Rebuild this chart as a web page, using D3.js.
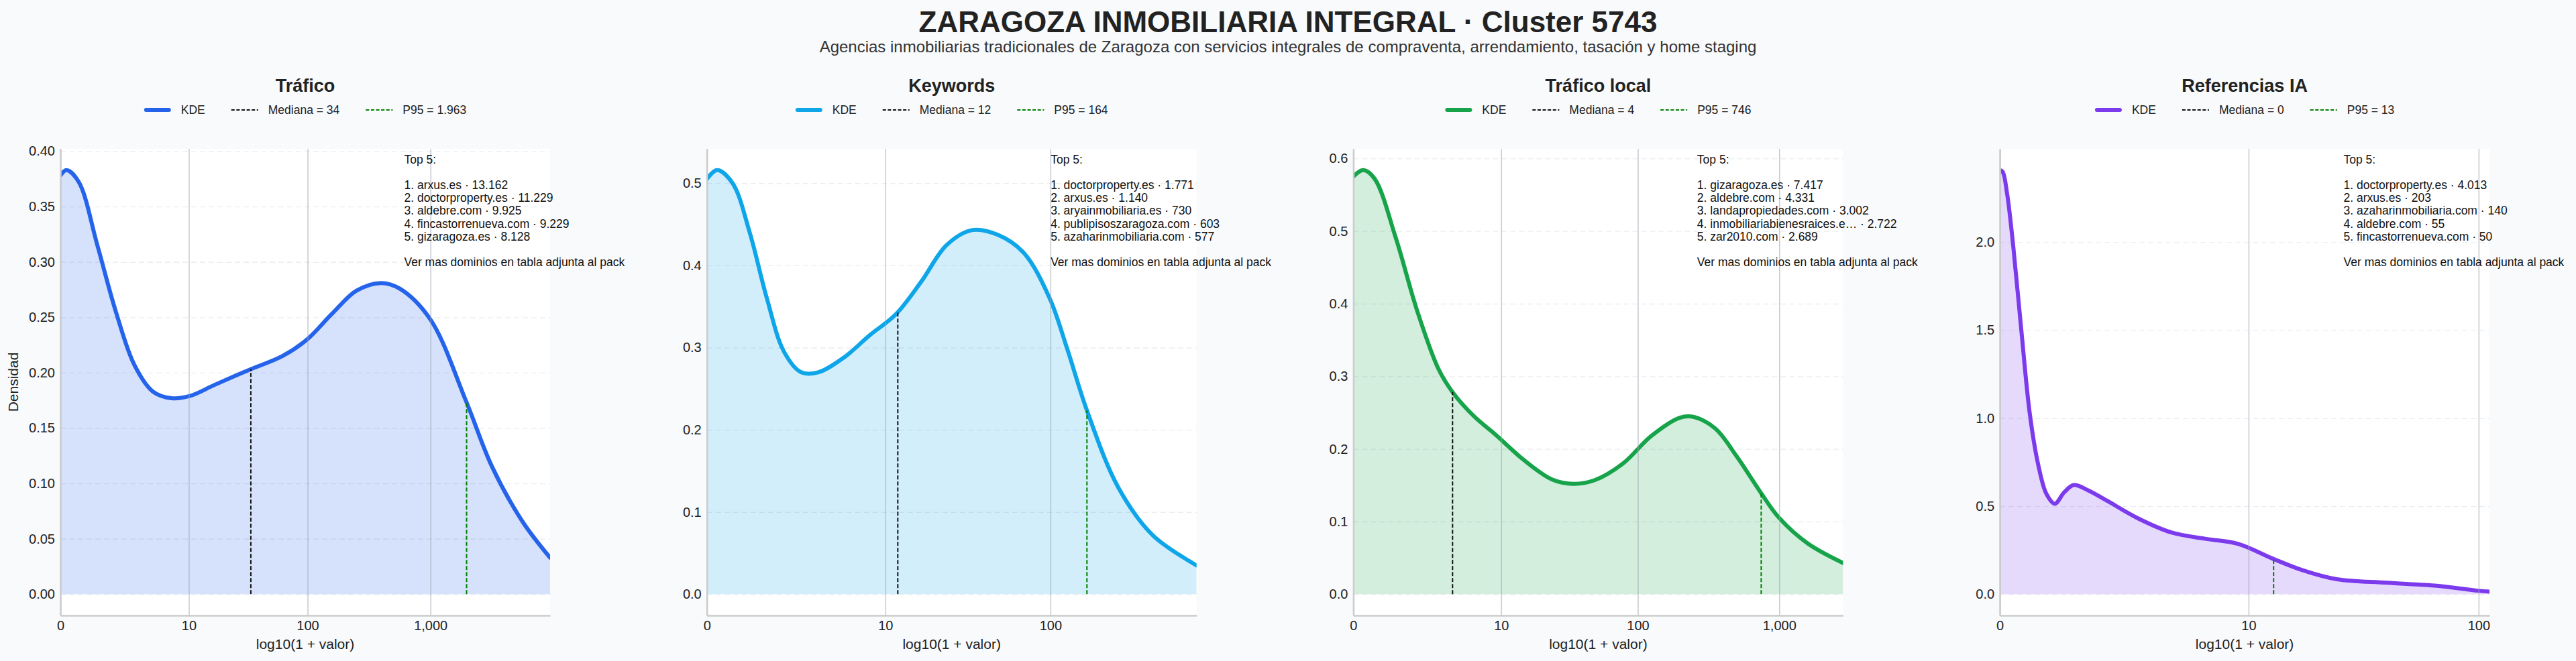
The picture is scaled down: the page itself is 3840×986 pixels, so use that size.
<!DOCTYPE html>
<html lang="es">
<head>
<meta charset="UTF-8">
<title>Zaragoza Inmobiliaria Integral · Cluster 5743</title>
<script src="https://cdn.jsdelivr.net/npm/d3@7"></script>
<style>
  html, body { margin: 0; background: #f8fafc; }
  svg { display: block; font-family: "Liberation Sans", Arial, Helvetica, sans-serif; }
</style>
</head>
<body>
<svg id="chart" width="3840" height="986"></svg>
<script>
// ---- data ----
const title = "ZARAGOZA INMOBILIARIA INTEGRAL · Cluster 5743";
const subtitle = "Agencias inmobiliarias tradicionales de Zaragoza con servicios integrales de compraventa, arrendamiento, tasación y home staging";

const panelNames = ["Tráfico", "Keywords", "Tráfico local", "Referencias IA"];
const panelColors = ["#2563eb", "#0ea5e9", "#16a34a", "#7c3aed"];
const medians = [34, 12, 4, 0];
const p95s = [1963, 164, 746, 13];
const xMaxLog = [3.97, 2.857, 3.45, 2.05];   // right limit, log10(1 + valor)
const xTickVals = [[0, 10, 100, 1000], [0, 10, 100], [0, 10, 100, 1000], [0, 10, 100]];
const yTickVals = [
  [0, 0.05, 0.10, 0.15, 0.20, 0.25, 0.30, 0.35, 0.40],
  [0, 0.1, 0.2, 0.3, 0.4, 0.5],
  [0, 0.1, 0.2, 0.3, 0.4, 0.5, 0.6],
  [0, 0.5, 1.0, 1.5, 2.0]
];
const yTickFmt = [".2f", ".1f", ".1f", ".1f"];

// KDE curves: x in log10(1 + valor), y = densidad
const traficoX = [0, 0.05, 0.15, 0.3, 0.45, 0.6, 0.75, 0.9, 1.05, 1.25, 1.54, 1.8, 2.0, 2.2, 2.4, 2.6, 2.75, 3.0, 3.29, 3.5, 3.75, 3.97];
const traficoY = [0.378, 0.383, 0.372, 0.315, 0.255, 0.207, 0.183, 0.177, 0.179, 0.189, 0.203, 0.215, 0.230, 0.253, 0.274, 0.281, 0.276, 0.248, 0.174, 0.115, 0.065, 0.033];
const keywordsX = [0, 0.06, 0.15, 0.25, 0.35, 0.45, 0.55, 0.65, 0.8, 0.95, 1.1, 1.25, 1.4, 1.55, 1.7, 1.85, 2.0, 2.1, 2.22, 2.4, 2.6, 2.857];
const keywordsY = [0.505, 0.516, 0.50, 0.44, 0.36, 0.295, 0.27, 0.27, 0.288, 0.315, 0.34, 0.38, 0.425, 0.443, 0.437, 0.415, 0.36, 0.30, 0.222, 0.13, 0.072, 0.035];
const localX = [0, 0.07, 0.15, 0.3, 0.45, 0.6, 0.7, 0.85, 1.0, 1.2, 1.4, 1.55, 1.7, 1.9, 2.1, 2.3, 2.4, 2.55, 2.7, 2.87, 3.0, 3.2, 3.45];
const localY = [0.575, 0.584, 0.572, 0.49, 0.39, 0.31, 0.278, 0.245, 0.22, 0.185, 0.158, 0.152, 0.157, 0.18, 0.218, 0.243, 0.244, 0.228, 0.19, 0.14, 0.105, 0.07, 0.043];
const iaX = [0, 0.012, 0.03, 0.056, 0.09, 0.125, 0.16, 0.195, 0.23, 0.27, 0.31, 0.37, 0.45, 0.58, 0.72, 0.86, 1.0, 1.146, 1.27, 1.41, 1.62, 1.83, 2.0, 2.05];
const iaY = [2.41, 2.4, 2.28, 1.98, 1.5, 1.03, 0.74, 0.57, 0.514, 0.58, 0.62, 0.59, 0.53, 0.43, 0.35, 0.315, 0.285, 0.20, 0.135, 0.085, 0.065, 0.048, 0.02, 0.015];

const top5Names = [
  ["arxus.es", "doctorproperty.es", "aldebre.com", "fincastorrenueva.com", "gizaragoza.es"],
  ["doctorproperty.es", "arxus.es", "aryainmobiliaria.es", "publipisoszaragoza.com", "azaharinmobiliaria.com"],
  ["gizaragoza.es", "aldebre.com", "landapropiedades.com", "inmobiliariabienesraices.e…", "zar2010.com"],
  ["doctorproperty.es", "arxus.es", "azaharinmobiliaria.com", "aldebre.com", "fincastorrenueva.com"]
];
const top5Values = [
  [13162, 11229, 9925, 9229, 8128],
  [1771, 1140, 730, 603, 577],
  [7417, 4331, 3002, 2722, 2689],
  [4013, 203, 140, 55, 50]
];

const curvesX = [traficoX, keywordsX, localX, iaX];
const curvesY = [traficoY, keywordsY, localY, iaY];

// ---- layout ----
const W = 3840, H = 986;
const left0 = 90, stepX = 963.7, pw = 730, plotTop = 222, plotBottom = 918;
const fontTick = 20, fontLegend = 17.5;

const esFmt = d3.formatLocale({decimal: ",", thousands: ".", grouping: [3], currency: ["", ""]}).format(",d");
const enFmt = d3.format(",d");

const svg = d3.select("#chart");
svg.append("rect").attr("width", W).attr("height", H).attr("fill", "#f8fafc");

svg.append("text").attr("x", W / 2).attr("y", 48).attr("text-anchor", "middle")
  .attr("font-size", 44).attr("font-weight", "bold").attr("fill", "#222").text(title);
svg.append("text").attr("x", W / 2).attr("y", 78).attr("text-anchor", "middle")
  .attr("font-size", 24).attr("fill", "#333").text(subtitle);

panelNames.forEach((name, i) => {
  const L = left0 + i * stepX;
  const xs = curvesX[i], ys = curvesY[i];
  const pts = xs.map((v, k) => [v, ys[k]]);
  const ymax = d3.max(ys);
  const x = d3.scaleLinear().domain([0, xMaxLog[i]]).range([L, L + pw]);
  const y = d3.scaleLinear().domain([-0.05 * ymax, 1.05 * ymax]).range([plotBottom, plotTop]);
  const smooth = d3.curveCatmullRom.alpha(0.5);
  const g = svg.append("g");

  g.append("rect").attr("x", L).attr("y", plotTop).attr("width", pw).attr("height", plotBottom - plotTop).attr("fill", "#fff");

  // horizontal dashed grid
  g.append("g").attr("transform", `translate(${L},0)`)
    .call(d3.axisLeft(y).tickValues(yTickVals[i]).tickSize(-pw).tickFormat(""))
    .call(a => a.select(".domain").remove())
    .call(a => a.selectAll("line").attr("stroke", "#ebedf0").attr("stroke-width", 1.3).attr("stroke-dasharray", "8,5"));

  const clipId = "clip" + i;
  svg.append("clipPath").attr("id", clipId).append("rect")
    .attr("x", L).attr("y", plotTop).attr("width", pw).attr("height", plotBottom - plotTop);
  const plot = g.append("g").attr("clip-path", `url(#${clipId})`);

  plot.append("path").datum(pts)
    .attr("d", d3.area().x(d => x(d[0])).y0(y(0)).y1(d => y(d[1])).curve(smooth))
    .attr("fill", panelColors[i]).attr("fill-opacity", 0.19);

  // vertical solid grid at major ticks
  g.append("g").attr("transform", `translate(0,${plotBottom})`)
    .call(d3.axisBottom(x).tickValues(xTickVals[i].map(v => Math.log10(1 + v))).tickSize(-(plotBottom - plotTop)).tickFormat(""))
    .call(a => a.select(".domain").remove())
    .call(a => a.selectAll("line").attr("stroke", "#9ca3af").attr("stroke-opacity", 0.55).attr("stroke-width", 1.6));

  const curve = plot.append("path").datum(pts)
    .attr("d", d3.line().x(d => x(d[0])).y(d => y(d[1])).curve(smooth))
    .attr("fill", "none").attr("stroke", panelColors[i]).attr("stroke-width", 6)
    .attr("stroke-linejoin", "round").attr("stroke-linecap", "round");

  // height of the drawn curve at a given x
  const node = curve.node(), total = node.getTotalLength();
  function curveYAt(px) {
    let lo = 0, hi = total;
    for (let k = 0; k < 40; k++) {
      const mid = (lo + hi) / 2;
      if (node.getPointAtLength(mid).x < px) lo = mid; else hi = mid;
    }
    return node.getPointAtLength(lo).y;
  }
  [[medians[i], "#111"], [p95s[i], "green"]].forEach(([v, c]) => {
    const px = x(Math.log10(1 + v));
    plot.append("line").attr("x1", px).attr("x2", px).attr("y1", y(0)).attr("y2", curveYAt(px))
      .attr("stroke", c).attr("stroke-width", 2).attr("stroke-dasharray", "6,3");
  });

  // axes with spines
  const ax = g.append("g").attr("transform", `translate(0,${plotBottom})`)
    .call(d3.axisBottom(x).tickValues(xTickVals[i].map(v => Math.log10(1 + v)))
      .tickFormat((d, k) => enFmt(xTickVals[i][k])).tickSize(0).tickSizeOuter(0).tickPadding(8));
  const ay = g.append("g").attr("transform", `translate(${L},0)`)
    .call(d3.axisLeft(y).tickValues(yTickVals[i]).tickFormat(d3.format(yTickFmt[i])).tickSize(0).tickSizeOuter(0).tickPadding(8));
  [ax, ay].forEach(a => {
    a.select(".domain").attr("stroke", "#cbcbcb").attr("stroke-width", 2.5);
    a.selectAll("text").attr("font-size", fontTick).attr("fill", "#222").attr("font-family", null);
  });

  g.append("text").attr("x", L + pw / 2).attr("y", 968).attr("text-anchor", "middle")
    .attr("font-size", 21).attr("fill", "#222").text("log10(1 + valor)");
  if (i === 0) {
    g.append("text").attr("transform", `translate(27,${(plotTop + plotBottom) / 2}) rotate(-90)`)
      .attr("text-anchor", "middle").attr("font-size", 21).attr("fill", "#222").text("Densidad");
  }

  g.append("text").attr("x", L + pw / 2).attr("y", 137).attr("text-anchor", "middle")
    .attr("font-size", 27).attr("font-weight", "bold").attr("fill", "#222").text(name);

  // legend
  const items = [
    {label: "KDE", color: panelColors[i], w: 6, dash: null},
    {label: "Mediana = " + esFmt(medians[i]), color: "#111", w: 2, dash: "5,2.6"},
    {label: "P95 = " + esFmt(p95s[i]), color: "green", w: 2, dash: "5,2.6"}
  ];
  const lg = g.append("g");
  let cx = 0;
  items.forEach(it => {
    lg.append("line").attr("x1", cx + (it.dash ? 0 : 3)).attr("x2", cx + 40 - (it.dash ? 0 : 3)).attr("y1", 0).attr("y2", 0)
      .attr("stroke", it.color).attr("stroke-width", it.w).attr("stroke-linecap", it.dash ? "butt" : "round")
      .attr("stroke-dasharray", it.dash);
    const t = lg.append("text").attr("x", cx + 55).attr("y", 0).attr("dy", "0.35em")
      .attr("font-size", fontLegend).attr("fill", "#222").text(it.label);
    cx += 55 + t.node().getComputedTextLength() + 39;
  });
  const lw = cx - 39;
  lg.attr("transform", `translate(${L + pw / 2 - lw / 2},164)`);

  // top 5 annotation
  const lines = ["Top 5:", ""]
    .concat(top5Names[i].map((n, k) => `${k + 1}. ${n} · ${esFmt(top5Values[i][k])}`))
    .concat(["", "Ver mas dominios en tabla adjunta al pack"]);
  const tx = L + 0.702 * pw;
  const tt = g.append("text").attr("x", tx).attr("y", 244).attr("font-size", fontLegend).attr("fill", "#111");
  lines.forEach((s, k) => tt.append("tspan").attr("x", tx).attr("y", 244 + k * 19.1).text(s || " "));
});
</script>
</body>
</html>
